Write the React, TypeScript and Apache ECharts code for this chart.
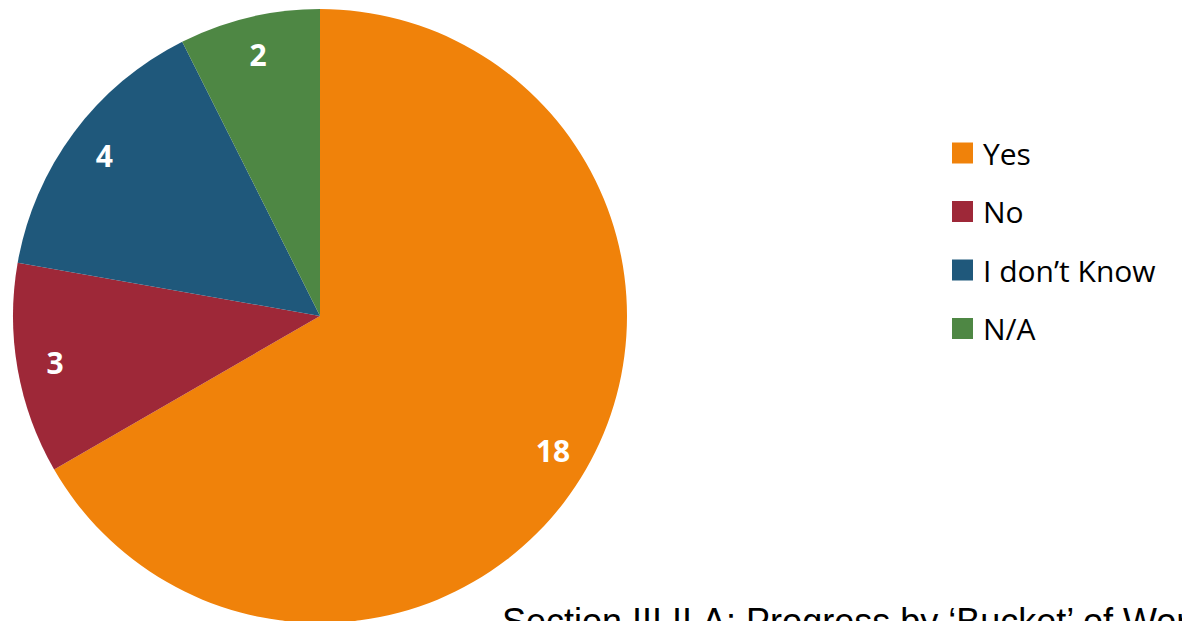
import React, { useEffect, useRef } from "react";
import * as echarts from "echarts";

const categories = ["Yes", "No", "I don\u2019t Know", "N/A"];
const values = [18, 3, 4, 2];
const colors = ["#F0820A", "#9E2838", "#1F587B", "#4E8744"];
const footerText = "Section III.II.A: Progress by \u2018Bucket\u2019 of Work";

export default function App() {
  const ref = useRef<HTMLDivElement>(null);
  useEffect(() => {
    if (!ref.current) return;
    const chart = echarts.init(ref.current, undefined, { renderer: "svg" });
    const data = categories.map((c, i) => ({ name: c, value: values[i], itemStyle: { color: colors[i] } }));
    chart.setOption({
      animation: false,
      backgroundColor: "#ffffff",
      legend: {
        orient: "vertical",
        left: 952,
        top: 136,
        padding: 0,
        icon: "rect",
        itemWidth: 21,
        itemHeight: 21,
        itemGap: 24.5,
        data: categories,
        textStyle: {
          fontFamily: "Open Sans",
          fontSize: 30,
          lineHeight: 34,
          color: "#000",
          padding: [0, 0, 0, 5],
        },
      },
      graphic: [
        {
          type: "text",
          left: 502,
          top: 603,
          style: {
            text: footerText,
            font: "36px 'Liberation Sans', Arial, sans-serif",
            fill: "#000",
          },
        },
      ],
      series: [
        {
          type: "pie",
          center: [320, 316],
          radius: [0, 307],
          startAngle: 90,
          clockwise: true,
          label: { show: false },
          labelLine: { show: false },
          itemStyle: { borderWidth: 0 },
          emphasis: { disabled: true },
          data,
        },
        {
          type: "pie",
          center: [320, 316],
          radius: [225, 307],
          startAngle: 90,
          clockwise: true,
          silent: true,
          legendHoverLink: false,
          itemStyle: { color: "transparent", borderWidth: 0 },
          label: {
            show: true,
            position: "inside",
            formatter: "{c}",
            color: "#fff",
            fontFamily: "Open Sans",
            fontWeight: "bold",
            fontSize: 30,
          },
          labelLine: { show: false },
          emphasis: { disabled: true },
          data: categories.map((c, i) => ({ name: c + " ", value: values[i] })),
        },
      ],
    });
    return () => chart.dispose();
  }, []);
  return <div ref={ref} style={{ position: "fixed", left: 0, top: 0, width: 1182, height: 621 }} />;
}
